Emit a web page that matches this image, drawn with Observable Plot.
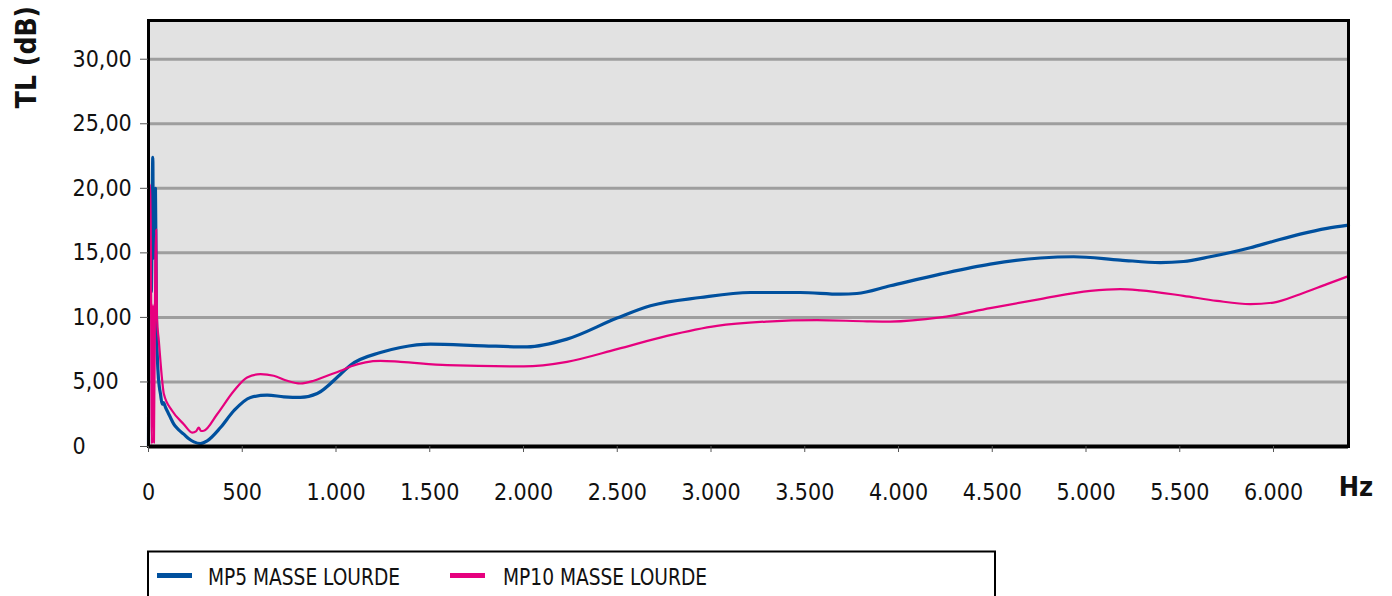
<!DOCTYPE html>
<html>
<head>
<meta charset="utf-8">
<script src="https://cdn.jsdelivr.net/npm/d3@7"></script>
<script src="https://cdn.jsdelivr.net/npm/@observablehq/plot@0.6"></script>
<style>
  html, body { margin: 0; padding: 0; background: #fff; }
  #chart { width: 1392px; height: 540px; }
  #legend { width: 1392px; height: 56px; }
</style>
</head>
<body>
<div id="chart"></div>
<div id="legend"></div>
<script>
// ---- data ----
const mp5Hz = [0,5,15,23,26,32,37,43,50,58,64,73,80,91,105,117,135,160,188,215,242,277,313,384,455,544,633,722,810,900,1024,1077,1237,1344,1504,1788,2019,2232,2499,2677,2943,3210,3476,3690,3778,3956,4223,4489,4756,4934,5183,5396,5520,5662,5876,6000,6142,6285,6400];
const mp5TL = [0,19.5,12,22.4,14.6,18,20,9.2,6,4.6,4.06,3.28,3.4,3.02,2.6,2.25,1.73,1.3,0.96,0.6,0.36,0.23,0.44,1.47,2.77,3.8,3.98,3.85,3.8,4.1,5.6,6.3,7.28,7.67,7.93,7.8,7.72,8.32,9.95,10.9,11.54,11.93,11.93,11.8,11.85,12.45,13.35,14.13,14.6,14.7,14.44,14.25,14.33,14.7,15.4,15.9,16.45,16.9,17.15];

const mp10Hz = [0,7,12,18,24,29,36,41,45,55,73,82,126,188,233,255,268,280,295,366,455,526,597,668,740,810,881,953,1024,1077,1237,1344,1593,2001,2232,2499,2765,3032,3299,3565,3832,3956,4223,4489,4756,5023,5183,5289,5520,5698,5876,6000,6142,6285,6400];
const mp10TL = [0,20.3,17,0.2,11,0.3,14,16.8,10,8.2,5.1,4.06,2.77,1.73,1.08,1.2,1.47,1.2,1.22,2.5,4.3,5.35,5.6,5.48,5.09,4.88,5.09,5.48,5.86,6.2,6.64,6.56,6.3,6.2,6.56,7.54,8.57,9.35,9.68,9.79,9.7,9.68,10.0,10.72,11.42,12.06,12.19,12.1,11.67,11.28,11.03,11.15,11.8,12.58,13.2];

const seriesNames = ["MP5 MASSE LOURDE", "MP10 MASSE LOURDE"];
const seriesColors = ["#00509e", "#e6007e"];
const yTicks = [0, 5, 10, 15, 20, 25, 30];
const xTicks = [0,500,1000,1500,2000,2500,3000,3500,4000,4500,5000,5500,6000];
const yLabel = "TL (dB)";
const xLabel = "Hz";

const mp5 = mp5Hz.map((hz, i) => ({hz, tl: mp5TL[i]}));
const mp10 = mp10Hz.map((hz, i) => ({hz, tl: mp10TL[i]}));

const FONT = "'Liberation Sans Narrow', 'DejaVu Sans Condensed', 'Liberation Sans', sans-serif";
const fmtY = d => d === 0 ? "0" : d.toFixed(2).replace(".", ",");
const fmtX = d => d3.format(",")(d).replace(/,/g, ".");

const chart = Plot.plot({
  width: 1392,
  height: 540,
  marginLeft: 148,
  marginRight: 44,
  marginTop: 20,
  marginBottom: 94,
  x: {domain: [0, 6400]},
  y: {domain: [0, 33]},
  style: {fontFamily: FONT, fontSize: "23px", background: "#fff", color: "#111", overflow: "visible"},
  marks: [
    Plot.frame({fill: "#e2e2e2"}),
    Plot.gridY(yTicks.filter(d => d > 0), {stroke: "#9e9e9e", strokeOpacity: 1, strokeWidth: 3}),
    Plot.line(mp5, {x: "hz", y: "tl", stroke: seriesColors[0], strokeWidth: 3.2, curve: "monotone-x"}),
    Plot.line(mp10, {x: "hz", y: "tl", stroke: seriesColors[1], strokeWidth: 2.2, curve: "monotone-x"}),
    Plot.frame({stroke: "#000", strokeWidth: 3}),
    Plot.ruleY([0], {stroke: "#000", strokeWidth: 4}),
    Plot.axisY({ticks: yTicks, tickFormat: fmtY, tickSize: 8, tickPadding: 68, textAnchor: "start", label: null, stroke: "#555"}),
    Plot.axisX({ticks: xTicks, tickFormat: fmtX, tickSize: 6, tickPadding: 31, label: null, stroke: "#555"})
  ]
});

const svg = d3.select(chart);
svg.append("text")
  .attr("transform", "translate(36,57) rotate(-90)")
  .attr("text-anchor", "middle")
  .attr("font-family", FONT)
  .attr("font-weight", "bold")
  .attr("font-size", 28)
  .attr("fill", "#111")
  .text(yLabel);
svg.append("text")
  .attr("x", 1356)
  .attr("y", 496)
  .attr("font-family", FONT)
  .attr("font-weight", "bold")
  .attr("font-size", 27)
  .attr("fill", "#111")
  .text(xLabel);

document.getElementById("chart").appendChild(chart);

// ---- legend below the chart ----
const leg = d3.select("#legend").append("svg")
  .attr("width", 1392).attr("height", 56)
  .style("display", "block");
leg.append("rect")
  .attr("x", 148).attr("y", 11.5).attr("width", 847).attr("height", 80)
  .attr("fill", "#fff").attr("stroke", "#000").attr("stroke-width", 2);
const items = [
  {name: seriesNames[0], color: seriesColors[0], sx: 157, tx: 208, tw: 192},
  {name: seriesNames[1], color: seriesColors[1], sx: 450, tx: 503, tw: 204}
];
items.forEach(it => {
  leg.append("line")
    .attr("x1", it.sx).attr("x2", it.sx + 35)
    .attr("y1", 35.5).attr("y2", 35.5)
    .attr("stroke", it.color).attr("stroke-width", 5);
  leg.append("text")
    .attr("x", it.tx).attr("y", 45)
    .attr("font-family", FONT).attr("font-size", 23).attr("fill", "#111")
    .attr("textLength", it.tw).attr("lengthAdjust", "spacingAndGlyphs")
    .text(it.name);
});
</script>
</body>
</html>
